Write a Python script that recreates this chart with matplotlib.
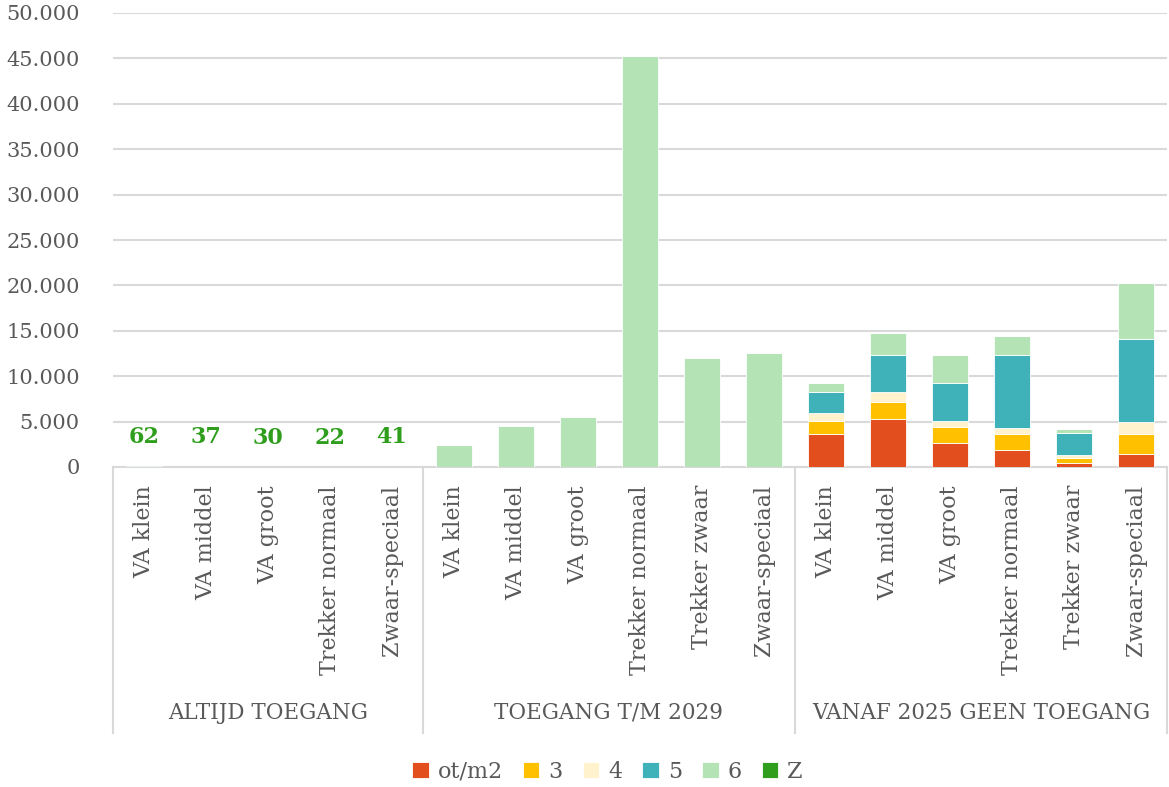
import matplotlib
matplotlib.use("Agg")
import matplotlib.pyplot as plt
import numpy as np

# categories per group
groups = ["ALTIJD TOEGANG", "TOEGANG T/M 2029", "VANAF 2025 GEEN TOEGANG"]
group_cats = [
    ["VA klein", "VA middel", "VA groot", "Trekker normaal", "Zwaar-speciaal"],
    ["VA klein", "VA middel", "VA groot", "Trekker normaal", "Trekker zwaar", "Zwaar-speciaal"],
    ["VA klein", "VA middel", "VA groot", "Trekker normaal", "Trekker zwaar", "Zwaar-speciaal"],
]

# series values (17 bars)
ot_m2 = [0, 0, 0, 0, 0, 0, 0, 0, 0, 0, 0, 3600, 5250, 2650, 1910, 400, 1470]
s3 = [0, 0, 0, 0, 0, 0, 0, 0, 0, 0, 0, 1500, 1870, 1725, 1690, 560, 2130]
s4 = [0, 0, 0, 0, 0, 0, 0, 0, 0, 0, 0, 900, 1180, 660, 660, 360, 1330]
s5 = [0, 0, 0, 0, 0, 0, 0, 0, 0, 0, 0, 2300, 4010, 4260, 8050, 2390, 9150]
s6 = [0, 0, 0, 0, 0, 2430, 4520, 5550, 45300, 11990, 12540, 950, 2420, 3090, 2100, 520, 6140]
sZ = [62, 37, 30, 22, 41, 0, 0, 0, 0, 0, 0, 0, 0, 0, 0, 0, 0]

series_names = ["ot/m2", "3", "4", "5", "6", "Z"]
colors = ["#E24E1D", "#FFC000", "#FFF2CC", "#3FB2B9", "#B4E4B5", "#2E9E1C"]

grey = "#595959"
plt.rcParams["font.family"] = ["DejaVu Serif"]

fig = plt.figure(figsize=(11.69, 7.87), dpi=100)
ax = fig.add_axes([113 / 1169, 1 - 467 / 787, (1167 - 113) / 1169, (467 - 13) / 787])

cats = [c for g in group_cats for c in g]
x = np.arange(len(cats))
bottom = np.zeros(len(cats))
for name, vals, col in zip(series_names, [ot_m2, s3, s4, s5, s6, sZ], colors):
    vals = np.array(vals, dtype=float)
    ax.bar(x, vals, 0.57, bottom=bottom, color=col, edgecolor="white",
           linewidth=0.6, label=name, zorder=3)
    bottom += vals

# labels for Z values
for i, v in enumerate(sZ):
    if v > 0:
        ax.annotate(str(v), (x[i], bottom[i]), xytext=(0, 21), textcoords="offset points",
                    ha="center", va="center", color=colors[5], fontsize=16, fontweight="bold")

ax.set_xlim(-0.5, len(cats) - 0.5)
ax.set_ylim(0, 50000)
ax.set_yticks(np.arange(0, 50001, 5000))
ax.set_yticklabels([f"{v:,}".replace(",", ".") for v in range(0, 50001, 5000)])
ax.tick_params(axis="y", length=0, pad=24, labelsize=15, labelcolor=grey)
ax.set_xticks(x)
ax.set_xticklabels(cats, rotation=90, fontsize=16, color=grey)
ax.tick_params(axis="x", length=0, pad=13)
ax.yaxis.grid(True, color="#D9D9D9", linewidth=1.5, zorder=0)
for s in ["left", "right", "top"]:
    ax.spines[s].set_visible(False)
ax.spines["bottom"].set_color("#D9D9D9")
ax.spines["bottom"].set_linewidth(1.5)

# group separators and labels
trans = ax.get_xaxis_transform()
sep_bottom = -(733 - 467) / (467 - 13)
label_y = -(713 - 467) / (467 - 13)
start = 0
edges = [-0.5]
for g, c in zip(groups, group_cats):
    end = start + len(c)
    edges.append(end - 0.5)
    ax.text((start + end - 1) / 2, label_y, g, transform=trans, ha="center", va="center",
            fontsize=15.5, color=grey)
    start = end
for e in edges:
    ax.plot([e, e], [0, sep_bottom], transform=trans, color="#D9D9D9", linewidth=1.5,
            clip_on=False)

ax.legend(loc="center", bbox_to_anchor=(0.469, -(772 - 467) / (467 - 13)), ncol=6,
          frameon=False, fontsize=16, handlelength=0.75, handleheight=0.75,
          columnspacing=0.9, handletextpad=0.4, labelcolor=grey)

fig.savefig("out.png", dpi=100)
